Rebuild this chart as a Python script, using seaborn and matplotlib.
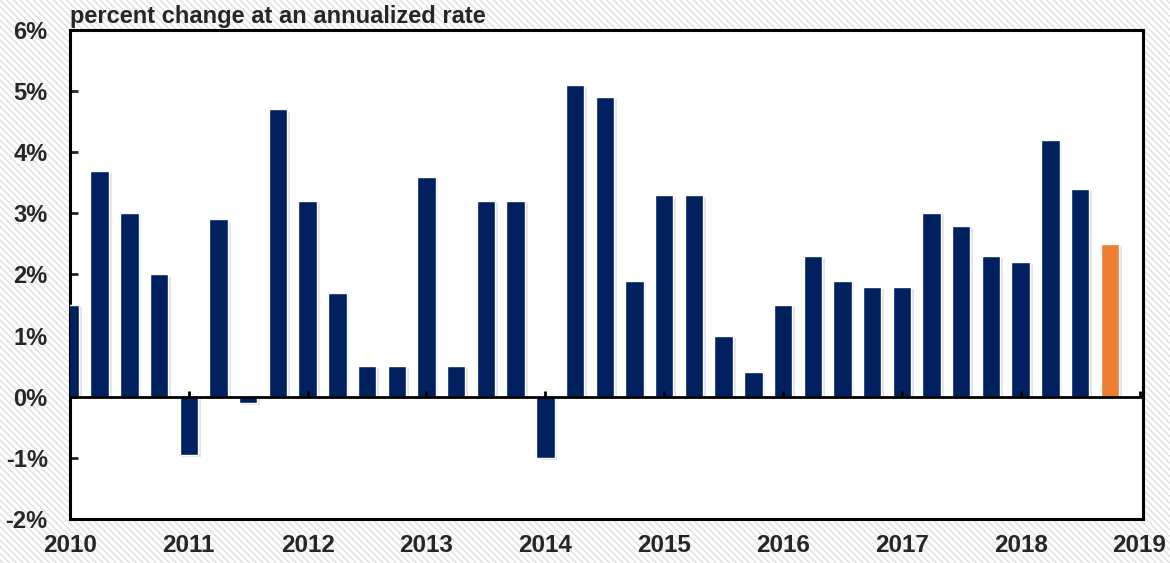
import matplotlib
matplotlib.use("Agg")
import matplotlib.pyplot as plt
import matplotlib.patches as mpatches
import matplotlib.patheffects as pe
import numpy as np
import pandas as pd
import seaborn as sns

# quarterly real GDP growth, 2010Q1 .. 2018Q4 (last one is the latest estimate)
years = list(range(2010, 2019))
quarters = [1, 2, 3, 4]
growth = [
    1.5, 3.7, 3.0, 2.0,
    -0.96, 2.9, -0.1, 4.7,
    3.2, 1.7, 0.5, 0.5,
    3.6, 0.5, 3.2, 3.2,
    -1.0, 5.1, 4.9, 1.9,
    3.3, 3.3, 1.0, 0.4,
    1.5, 2.3, 1.9, 1.8,
    1.8, 3.0, 2.8, 2.3,
    2.2, 4.2, 3.4, 2.5,
]
status = ["actual"] * 35 + ["estimate"]
year_ticks = list(range(2010, 2020))
y_ticks = [-2, -1, 0, 1, 2, 3, 4, 5, 6]
palette = {"actual": "#002060", "estimate": "#ED7D31"}

df = pd.DataFrame({
    "period": [y + (q - 1) / 4 for y in years for q in quarters],
    "growth": growth,
    "status": status,
})

sns.set_style("ticks")
plt.rcParams["font.family"] = ["Liberation Sans", "DejaVu Sans"]
plt.rcParams["font.weight"] = "bold"

fig = plt.figure(figsize=(11.7, 5.63), dpi=100)
bg = mpatches.Rectangle((0, 0), 1, 1, transform=fig.transFigure,
                        facecolor="white", edgecolor="#dedede",
                        hatch="\\\\\\\\\\", linewidth=0, zorder=-10)
fig.add_artist(bg)
fig.patch.set_alpha(0)

ax = fig.add_axes([0.0598, 0.0782, 0.9172, 0.8685])
ax.set_facecolor("white")

sns.barplot(data=df, x="period", y="growth", hue="status", palette=palette,
            native_scale=True, width=0.62, dodge=False, errorbar=None,
            saturation=1, legend=False, ax=ax, zorder=3)
for bar in ax.patches:
    bar.set_path_effects([
        pe.SimplePatchShadow(offset=(2, -1.5), shadow_rgbFace="#b0b0b0", alpha=0.35),
        pe.Normal(),
    ])

ax.set_xlim(2010, 2019.03)
ax.set_ylim(-2, 6)
ax.axhline(0, color="black", lw=2, zorder=4)
ax.vlines(year_ticks[1:], 0, 0.1, color="black", lw=2, zorder=4)

ax.set_xticks(year_ticks)
ax.set_xticklabels([str(y) for y in year_ticks], fontsize=17.5, fontweight="bold")
ax.set_yticks(y_ticks)
ax.set_yticklabels([f"{v}%" for v in y_ticks], fontsize=17, fontweight="bold")
ax.tick_params(axis="x", length=0, pad=11)
ax.tick_params(axis="y", direction="in", length=6, width=2, pad=16)
ax.set_xlabel("")
ax.set_ylabel("")
for side in ["left", "right", "top", "bottom"]:
    ax.spines[side].set_visible(True)
    ax.spines[side].set_linewidth(2.2)
    ax.spines[side].set_color("black")

ax.text(0, 1.004, "percent change at an annualized rate", transform=ax.transAxes,
        ha="left", va="bottom", fontsize=17, fontweight="bold")

fig.savefig("out.png", dpi=100)
